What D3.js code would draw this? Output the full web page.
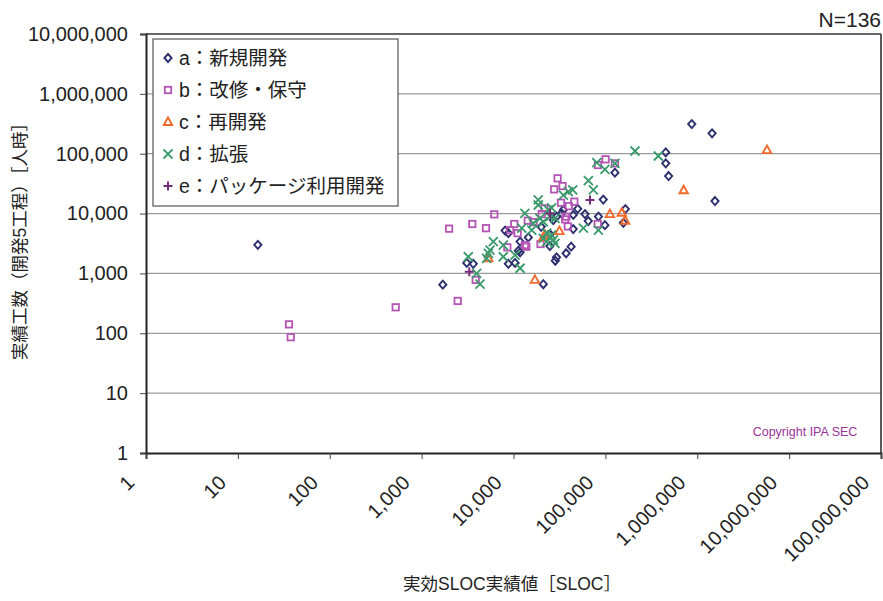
<!DOCTYPE html>
<html><head><meta charset="utf-8">
<script src="https://cdn.jsdelivr.net/npm/d3@7"></script>
<style>
body{margin:0;background:#fff;}
svg{display:block;font-family:"Liberation Sans","Noto Sans CJK JP",sans-serif;}
</style></head>
<body><svg id="c" width="883" height="601"></svg>
<script>
const xTicks=[1,10,100,1000,10000,100000,1000000,10000000,100000000];
const yTicks=[1,10,100,1000,10000,100000,1000000,10000000];
const seriesNames=["a：新規開発","b：改修・保守","c：再開発","d：拡張","e：パッケージ利用開発"];
const aData=[[16.5,3000],[1700,650],[3100,1500],[3650,1450],[8100,5200],[8800,4700],[8800,1450],[10400,1500],[11800,3400],[11300,2400],[11800,2250],[14500,4000],[24900,2870],[21100,660],[29400,1860],[28500,1630],[27100,7800],[29500,8900],[34800,11500],[33400,10100],[44700,9500],[44700,5500],[42400,2800],[37400,2170],[65200,7500],[84100,8900],[98800,6400],[94900,17100],[127000,48200],[165000,11900],[157000,7000],[871000,313000],[1450000,219000],[454000,105000],[454000,69000],[488000,42400],[1560000,16200],[20000,6000],[25000,4500],[50000,12000],[60000,9800]];
const bData=[[36,141],[37.6,86],[522,272],[2470,347],[1990,5600],[3560,6700],[3880,780],[5020,5700],[6180,9700],[10200,6700],[9170,5300],[11100,4700],[8570,2730],[13300,2980],[13800,2800],[14300,7600],[16500,7200],[20300,9800],[21700,12200],[30200,38800],[34200,28800],[27700,25400],[32900,15200],[45900,15800],[40000,13300],[37500,8900],[36500,8000],[39000,6100],[19700,3100],[100500,80600],[83000,64700],[82600,6700],[127000,69000]];
const cData=[[5740000,115000],[712000,24500],[112000,9800],[151000,10300],[164000,7600],[31600,5100],[21100,4000],[22000,4400],[17100,780],[5320,1790]];
const dData=[[210000,111000],[377000,91600],[98800,54900],[127000,69000],[80700,70700],[65300,35400],[74000,24800],[44100,24800],[39500,23200],[34900,20400],[18600,16900],[18600,13900],[26000,12500],[23900,11500],[13300,10100],[19400,8300],[28300,8300],[16400,6900],[21100,7300],[12300,5700],[15800,5300],[57700,5700],[84000,5300],[23000,4700],[26000,4400],[21100,3860],[27200,3620],[23000,3390],[6030,3390],[7740,2980],[5550,2460],[5320,2170],[7740,1900],[10400,2030],[5100,1790],[3220,1900],[11800,1220],[3970,1000],[4320,660],[28300,3180],[24900,8900]];
const eData=[[68000,16900],[3300,1070],[25000,10000]];
const nLabel="N=136";
const copyright="Copyright IPA SEC";
const xTitle="実効SLOC実績値［SLOC］";
const yTitle="実績工数（開発5工程）［人時］";

const svg=d3.select("#c");
const L=146,R=881,T=34,B=453;
const x=d3.scaleLog().domain([1,1e8]).range([L,R]);
const y=d3.scaleLog().domain([1,1e7]).range([B,T]);
const fmt=d3.format(",");

// grid
svg.append("g").selectAll("line").data(yTicks.slice(1,-1)).join("line")
 .attr("x1",L).attr("x2",R).attr("y1",d=>y(d)).attr("y2",d=>y(d))
 .attr("stroke","#9a9a9a").attr("stroke-width",1.3);
// frame top/right
svg.append("line").attr("x1",L).attr("x2",R).attr("y1",T).attr("y2",T).attr("stroke","#333").attr("stroke-width",1.6);
svg.append("line").attr("x1",R).attr("x2",R).attr("y1",T).attr("y2",B).attr("stroke","#333").attr("stroke-width",1.6);

// axes
const yAxis=d3.axisLeft(y).tickValues(yTicks).tickFormat(fmt).tickSize(6).tickPadding(12);
const gy=svg.append("g").attr("transform",`translate(${L},0)`).call(yAxis);
gy.select(".domain").attr("stroke","#222").attr("stroke-width",2);
gy.selectAll(".tick line").attr("stroke","#444");
gy.selectAll("text").attr("font-size",20).attr("fill","#222").attr("font-family","Liberation Sans");

const xAxis=d3.axisBottom(x).tickValues(xTicks).tickFormat(fmt).tickSize(6);
const gx=svg.append("g").attr("transform",`translate(0,${B})`).call(xAxis);
gx.select(".domain").attr("stroke","#222").attr("stroke-width",2);
gx.selectAll(".tick line").attr("stroke","#444");
gx.selectAll("text").attr("font-size",20).attr("fill","#222").attr("font-family","Liberation Sans")
 .attr("text-anchor","end").attr("dy",0).attr("y",0)
 .attr("transform","translate(-11,31) rotate(-45)");

// markers
function diamond(g,data,col){
 g.selectAll("path.a").data(data).join("path").attr("class","a")
  .attr("d",d=>`M${x(d[0])},${y(d[1])-4}l3.6,4l-3.6,4l-3.6,-4z`)
  .attr("fill","none").attr("stroke",col).attr("stroke-width",1.9);
}
function square(g,data,col){
 g.selectAll("rect").data(data).join("rect")
  .attr("x",d=>x(d[0])-3.2).attr("y",d=>y(d[1])-3.2).attr("width",6.4).attr("height",6.4)
  .attr("fill","none").attr("stroke",col).attr("stroke-width",1.8);
}
function tri(g,data,col){
 g.selectAll("path").data(data).join("path")
  .attr("d",d=>`M${x(d[0])},${y(d[1])-4.5}l4.2,7.5h-8.4z`)
  .attr("fill","none").attr("stroke",col).attr("stroke-width",1.9);
}
function cross(g,data,col){
 g.selectAll("path").data(data).join("path")
  .attr("d",d=>`M${x(d[0])-4.5},${y(d[1])-4.5}l9,9M${x(d[0])+4.5},${y(d[1])-4.5}l-9,9`)
  .attr("fill","none").attr("stroke",col).attr("stroke-width",1.8);
}
function plus(g,data,col){
 g.selectAll("path").data(data).join("path")
  .attr("d",d=>`M${x(d[0])-4.5},${y(d[1])}h9M${x(d[0])},${y(d[1])-4.5}v9`)
  .attr("fill","none").attr("stroke",col).attr("stroke-width",2);
}
const colors=["#2d2f6e","#b454b4","#f2692b","#3a9a6c","#7a2a7c"];
const drawers=[diamond,square,tri,cross,plus];
const allData=[aData,bData,cData,dData,eData];
allData.forEach((d,i)=>drawers[i](svg.append("g"),d,colors[i]));

// legend
const lg=svg.append("g");
lg.append("rect").attr("x",153).attr("y",39).attr("width",245).attr("height",167)
 .attr("fill","#fff").attr("stroke","#555").attr("stroke-width",1.2);
seriesNames.forEach((n,i)=>{
 const yy=58+i*32;
 const g=lg.append("g");
 const px=x.invert(168), py=y.invert(yy);
 drawers[i](g,[[px,py]],colors[i]);
 g.append("text").attr("x",179).attr("y",yy).attr("dy","0.36em")
  .attr("font-size",19.5).attr("fill","#222").text(n);
});

// texts
svg.append("text").attr("x",881).attr("y",27).attr("text-anchor","end").attr("font-size",21).attr("fill","#222").text(nLabel);
svg.append("text").attr("x",805).attr("y",436).attr("text-anchor","middle").attr("font-size",12.5).attr("fill","#993399").text(copyright);
svg.append("text").attr("x",512).attr("y",590).attr("text-anchor","middle").attr("font-size",17.5).attr("fill","#222").text(xTitle);
svg.append("text").attr("transform","translate(26,237) rotate(-90)").attr("text-anchor","middle").attr("font-size",17.5).attr("fill","#222").text(yTitle);
</script></body></html>
